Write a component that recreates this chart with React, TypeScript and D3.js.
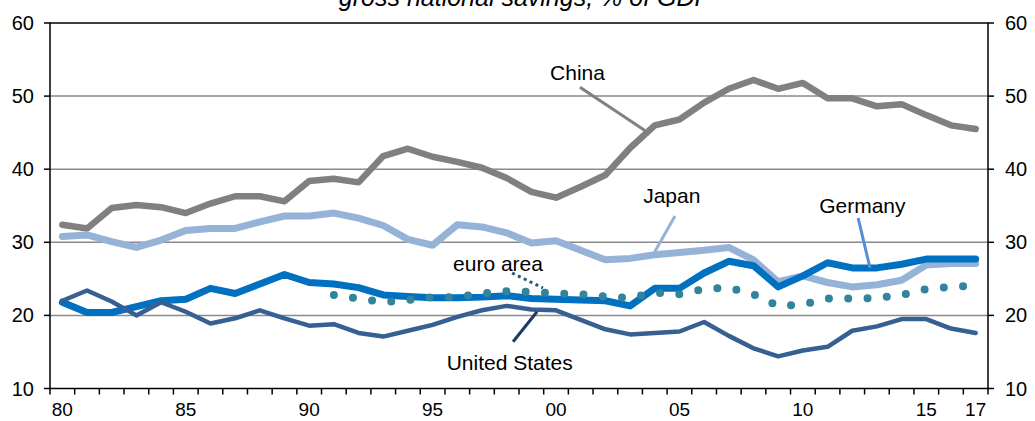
import React from "react";
import * as d3 from "d3";

const years: number[] = d3.range(1980, 2018);
const tickLabels: { year: number; label: string }[] = [
  { year: 1980, label: "80" },
  { year: 1985, label: "85" },
  { year: 1990, label: "90" },
  { year: 1995, label: "95" },
  { year: 2000, label: "00" },
  { year: 2005, label: "05" },
  { year: 2010, label: "10" },
  { year: 2015, label: "15" },
  { year: 2017, label: "17" },
];
const yTicks: number[] = [10, 20, 30, 40, 50, 60];
const gridTicks: number[] = [20, 30, 40, 50];

const china: number[] = [
  32.4, 31.9, 34.7, 35.1, 34.8, 34.0, 35.3, 36.3, 36.3, 35.6,
  38.4, 38.7, 38.2, 41.8, 42.8, 41.7, 41.0, 40.2, 38.8, 36.9,
  36.1, 37.6, 39.2, 42.9, 46.0, 46.8, 49.1, 51.0, 52.2, 51.0,
  51.8, 49.7, 49.7, 48.6, 48.9, 47.4, 46.0, 45.5,
];
const japan: number[] = [
  30.8, 31.0, 30.1, 29.3, 30.3, 31.6, 31.9, 31.9, 32.8, 33.6,
  33.6, 34.0, 33.3, 32.3, 30.4, 29.6, 32.4, 32.1, 31.3, 29.9,
  30.2, 28.9, 27.6, 27.8, 28.3, 28.6, 28.9, 29.3, 27.6, 24.6,
  25.4, 24.5, 23.9, 24.2, 24.8, 26.9, 27.1, 27.1,
];
const germany: number[] = [
  21.8, 20.4, 20.4, 21.2, 22.0, 22.2, 23.7, 23.0, 24.3, 25.6,
  24.5, 24.3, 23.8, 22.8, 22.6, 22.4, 22.4, 22.5, 22.7, 22.3,
  22.2, 22.1, 22.0, 21.3, 23.7, 23.7, 25.8, 27.4, 26.8, 23.9,
  25.4, 27.2, 26.5, 26.5, 27.0, 27.7, 27.7, 27.7,
];
const unitedStates: number[] = [
  22.0, 23.4, 21.9, 20.0, 21.8, 20.5, 18.9, 19.6, 20.7, 19.6,
  18.6, 18.8, 17.6, 17.1, 17.9, 18.7, 19.8, 20.7, 21.3, 20.8,
  20.7, 19.4, 18.1, 17.4, 17.6, 17.8, 19.1, 17.2, 15.5, 14.4,
  15.2, 15.7, 17.9, 18.5, 19.5, 19.5, 18.2, 17.6,
];
const euroYears: number[] = d3.range(1991, 2018);
const euroArea: number[] = [
  22.8, 22.3, 21.8, 22.1, 22.5, 22.5, 23.0, 23.3, 23.2, 23.0,
  22.9, 22.6, 22.4, 23.1, 22.9, 23.6, 23.8, 22.9, 21.3, 21.5,
  22.3, 22.3, 22.4, 22.8, 23.6, 23.9, 24.1,
];

type Ann = {
  text: string;
  lx: number; ly: number;
  x1: number; y1: number; x2: number; y2: number;
  color: string; dash?: string;
};
const annotations: Ann[] = [
  { text: "China", lx: 1999.76, ly: 52.2, x1: 2000.97, y1: 51.2, x2: 2003.6, y2: 45.3, color: "#808080" },
  { text: "Japan", lx: 2003.53, ly: 35.4, x1: 2004.82, y1: 33.6, x2: 2004.0, y2: 28.7, color: "#95B3D7" },
  { text: "Germany", lx: 2010.66, ly: 34.0, x1: 2012.24, y1: 33.3, x2: 2012.72, y2: 26.5, color: "#558ED5" },
  { text: "euro area", lx: 1995.83, ly: 26.1, x1: 1998.22, y1: 25.8, x2: 1999.47, y2: 23.75, color: "#215E6E", dash: "3 3.5" },
  { text: "United States", lx: 1995.57, ly: 12.5, x1: 1999.23, y1: 20.5, x2: 1998.26, y2: 16.4, color: "#1F3864" },
];

const W = 1035;
const H = 421;
const left = 50;
const right = 988;
const top = 23;
const bottom = 388.5;

export default function App() {
  const x = d3.scaleLinear().domain([1980, 2018]).range([left, right]);
  const cx = (yr: number) => x(yr + 0.5);
  const y = d3.scaleLinear().domain([10, 60]).range([bottom, top]);
  const font = "'Liberation Sans', Arial, sans-serif";

  const line = (ys: number[], xs: number[]) =>
    d3
      .line<number>()
      .x((_, i) => cx(xs[i]))
      .y((d) => y(d))(ys) || "";

  const series = [
    { data: china, color: "#808080", w: 6.5 },
    { data: japan, color: "#95B3D7", w: 7 },
    { data: germany, color: "#0070C0", w: 7 },
    { data: unitedStates, color: "#376092", w: 4.5 },
  ];

  return (
    <svg
      width={W}
      height={H}
      style={{ position: "absolute", left: 0, top: 0, background: "#fff" }}
      fontFamily={font}
    >
      <text
        x={(left + right) / 2 + 6}
        y={6}
        textAnchor="middle"
        fontStyle="italic"
        fontSize={25}
        fill="#000"
      >
        gross national savings, % of GDP
      </text>
      {gridTicks.map((t) => (
        <line key={t} x1={left} x2={right} y1={y(t)} y2={y(t)} stroke="#8a8a8a" strokeWidth={1.5} />
      ))}
      {series.map((s, i) => (
        <path
          key={i}
          d={line(s.data, years)}
          fill="none"
          stroke={s.color}
          strokeWidth={s.w}
          strokeLinejoin="round"
          strokeLinecap="round"
        />
      ))}
      <path
        d={line(euroArea, euroYears)}
        fill="none"
        stroke="#31849B"
        strokeWidth={8}
        strokeDasharray="0 19.3"
        strokeLinecap="round"
      />
      <rect x={left} y={top} width={right - left} height={bottom - top} fill="none" stroke="#000" strokeWidth={1.5} />
      {yTicks.map((t) => (
        <g key={t}>
          <line x1={left - 6} x2={left} y1={y(t)} y2={y(t)} stroke="#000" strokeWidth={1.5} />
          <line x1={right} x2={right + 6} y1={y(t)} y2={y(t)} stroke="#000" strokeWidth={1.5} />
          <text x={left - 16} y={y(t)} dy="0.35em" textAnchor="end" fontSize={20} fill="#000">
            {t}
          </text>
          <text x={right + 17} y={y(t)} dy="0.35em" textAnchor="start" fontSize={20} fill="#000">
            {t}
          </text>
        </g>
      ))}
      {d3.range(1980, 2019).map((yr) => (
        <line key={yr} x1={x(yr)} x2={x(yr)} y1={bottom} y2={bottom + 6} stroke="#000" strokeWidth={1.5} />
      ))}
      {tickLabels.map((t) => (
        <text key={t.label} x={cx(t.year)} y={bottom + 27.5} textAnchor="middle" fontSize={19} fill="#000">
          {t.label}
        </text>
      ))}
      {annotations.map((a) => (
        <g key={a.text}>
          <line
            x1={x(a.x1 + 0.5)}
            y1={y(a.y1)}
            x2={x(a.x2 + 0.5)}
            y2={y(a.y2)}
            stroke={a.color}
            strokeWidth={3}
            strokeDasharray={a.dash}
          />
          <text x={x(a.lx + 0.5)} y={y(a.ly)} fontSize={21} fill="#000">
            {a.text}
          </text>
        </g>
      ))}
    </svg>
  );
}
